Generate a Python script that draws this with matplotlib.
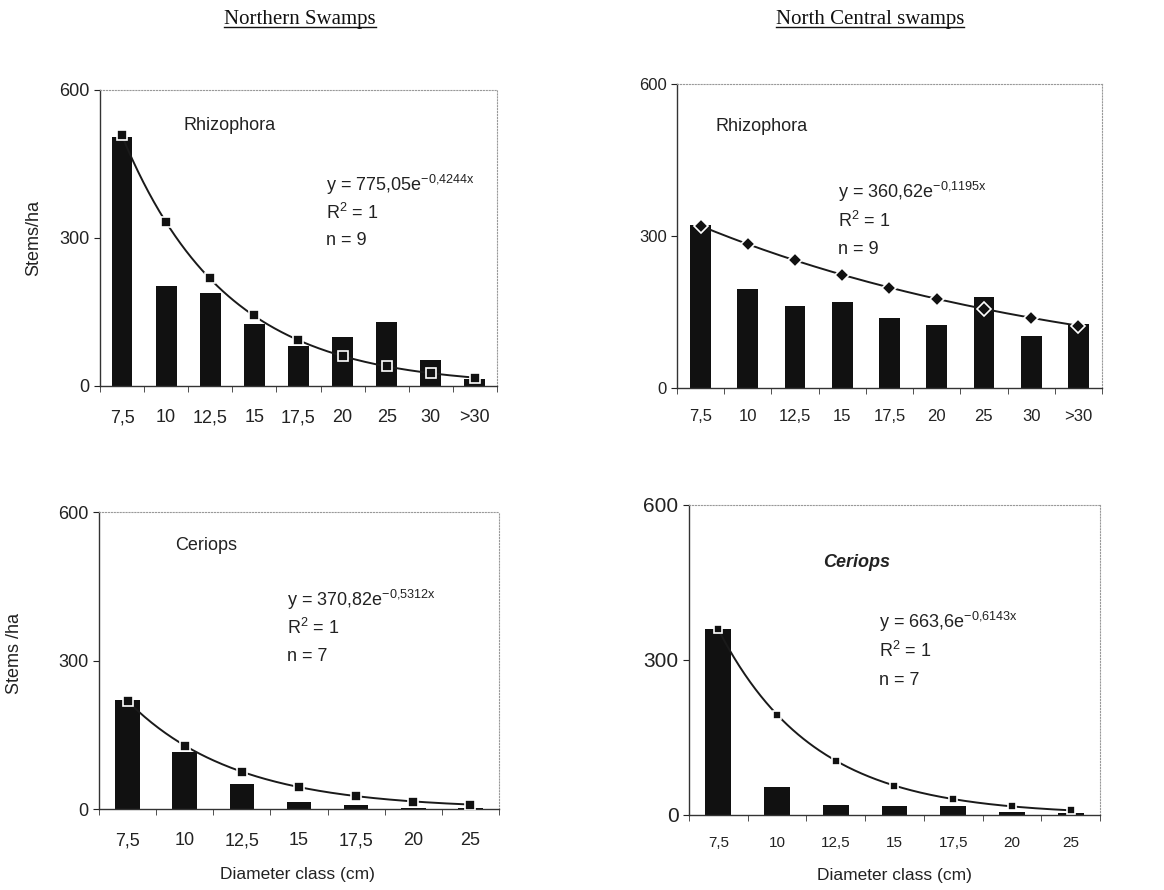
import numpy as np
import matplotlib
matplotlib.use('Agg')
import matplotlib.pyplot as plt

plt.rcParams['font.family'] = ['Liberation Sans', 'DejaVu Sans']
plt.rcParams['mathtext.default'] = 'regular'

# Northern swamps, Rhizophora
rhi_n_classes = ['7,5', '10', '12,5', '15', '17,5', '20', '25', '30', '>30']
rhi_n_bars = [505, 203, 188, 126, 82, 99, 130, 52, 14]
rhi_n_pts = [508, 333, 218, 143, 94, 61, 40, 26, 17]
rhi_n_fit = (775.05, 0.4244)

# North central swamps, Rhizophora
rhi_c_classes = ['7,5', '10', '12,5', '15', '17,5', '20', '25', '30', '>30']
rhi_c_bars = [322, 195, 162, 170, 138, 124, 180, 103, 126]
rhi_c_pts = [320, 284, 252, 223, 198, 176, 156, 138, 123]
rhi_c_fit = (360.62, 0.1195)

# Northern swamps, Ceriops
cer_n_classes = ['7,5', '10', '12,5', '15', '17,5', '20', '25']
cer_n_bars = [220, 115, 50, 14, 8, 3, 3]
cer_n_pts = [218, 128, 75, 44, 26, 15, 9]
cer_n_fit = (370.82, 0.5312)

# North central swamps, Ceriops
cer_c_classes = ['7,5', '10', '12,5', '15', '17,5', '20', '25']
cer_c_bars = [360, 54, 19, 17, 17, 5, 3]
cer_c_pts = [359, 194, 105, 57, 31, 17, 9]
cer_c_fit = (663.6, 0.6143)

fig = plt.figure(figsize=(11.64, 8.90), dpi=100)


def panel(rect, classes, bars, pts, fit, marker, ms, bw, tick_fs, ytick_fs, pad,
          name, name_xy, name_style, eq, eq_xy, n):
    ax = fig.add_axes(rect)
    x = np.arange(len(classes))
    ax.bar(x, bars, width=bw, color='#111111', zorder=2)
    a, b = fit
    xs = np.linspace(0, len(classes) - 1, 200)
    ax.plot(xs, a * np.exp(-b * (xs + 1)), color='#1a1a1a', lw=1.4, zorder=3)
    ax.plot(x, pts, ls='none', marker=marker, ms=ms, mfc='#111111',
            mec='white', mew=1.2, zorder=4)
    ax.set_xlim(-0.5, len(classes) - 0.5)
    ax.set_ylim(0, 600)
    ax.set_yticks([0, 300, 600])
    ax.set_xticks(x)
    ax.set_xticklabels(classes, va='baseline')
    ax.set_xticks(np.arange(len(classes) + 1) - 0.5, minor=True)
    ax.tick_params(axis='x', which='major', length=0, pad=pad, labelsize=tick_fs,
                   colors='#222222')
    ax.tick_params(axis='x', which='minor', length=4, direction='out', color='#333333')
    ax.tick_params(axis='y', length=4, direction='out', labelsize=ytick_fs,
                   colors='#222222')
    for s in ['top', 'right']:
        ax.spines[s].set_linestyle(':')
        ax.spines[s].set_color('#999999')
        ax.spines[s].set_linewidth(0.8)
    for s in ['left', 'bottom']:
        ax.spines[s].set_color('#333333')
        ax.spines[s].set_linewidth(1.0)
    ax.text(name_xy[0], name_xy[1], name, transform=ax.transAxes, ha='left',
            va='center', fontsize=13, color='#222222', **name_style)
    ex, ey = eq_xy
    ax.text(ex, ey, eq, transform=ax.transAxes, ha='left', va='center',
            fontsize=13, color='#222222')
    ax.text(ex, ey - 0.095, r'R$^{2}$ = 1', transform=ax.transAxes, ha='left',
            va='center', fontsize=13, color='#222222')
    ax.text(ex, ey - 0.19, 'n = %d' % n, transform=ax.transAxes, ha='left',
            va='center', fontsize=13, color='#222222')
    return ax


ax1 = panel([0.0859, 0.5663, 0.341, 0.3326], rhi_n_classes, rhi_n_bars, rhi_n_pts,
            rhi_n_fit, 's', 7, 0.47, 13, 13, 26, 'Rhizophora', (0.21, 0.88), {},
            r'y = 775,05e$^{-0{,}4244x}$', (0.57, 0.68), 9)
ax1.set_ylabel('Stems/ha', fontsize=13, color='#222222')
ax1.yaxis.set_label_coords(-0.146, 0.5)

ax2 = panel([0.5816, 0.564, 0.3651, 0.3416], rhi_c_classes, rhi_c_bars, rhi_c_pts,
            rhi_c_fit, 'D', 7, 0.44, 12, 12, 24, 'Rhizophora', (0.09, 0.86), {},
            r'y = 360,62e$^{-0{,}1195x}$', (0.38, 0.645), 9)

ax3 = panel([0.0851, 0.091, 0.3436, 0.3337], cer_n_classes, cer_n_bars, cer_n_pts,
            cer_n_fit, 's', 7, 0.43, 13, 13, 26, 'Ceriops', (0.19, 0.886), {},
            r'y = 370,82e$^{-0{,}5312x}$', (0.47, 0.704), 7)
ax3.set_ylabel('Stems /ha', fontsize=13, color='#222222')
ax3.yaxis.set_label_coords(-0.19, 0.525)
ax3.set_xlabel('Diameter class (cm)', fontsize=12.5, color='#222222')
ax3.xaxis.set_label_coords(0.495, -0.195)

ax4 = panel([0.5919, 0.0843, 0.3531, 0.3483], cer_c_classes, cer_c_bars, cer_c_pts,
            cer_c_fit, 's', 6, 0.44, 11, 15, 23, 'Ceriops', (0.326, 0.813),
            {'fontweight': 'bold', 'fontstyle': 'italic'},
            r'y = 663,6e$^{-0{,}6143x}$', (0.462, 0.623), 7)
ax4.set_xlabel('Diameter class (cm)', fontsize=12.5, color='#222222')
ax4.xaxis.set_label_coords(0.5, -0.171)

# underlined serif headings
renderer = fig.canvas.get_renderer()
for label, cx in [('Northern Swamps', 300 / 1164), ('North Central swamps', 870 / 1164)]:
    t = fig.text(cx, 0.978, label, ha='center', va='center', fontsize=15,
                 family='Liberation Serif', color='#111111')
    bb = t.get_window_extent(renderer).transformed(fig.transFigure.inverted())
    fig.add_artist(plt.Line2D([bb.x0, bb.x1], [bb.y0 + 0.002, bb.y0 + 0.002],
                              transform=fig.transFigure, color='#111111', lw=1.0))

fig.savefig('out.png', dpi=100)
